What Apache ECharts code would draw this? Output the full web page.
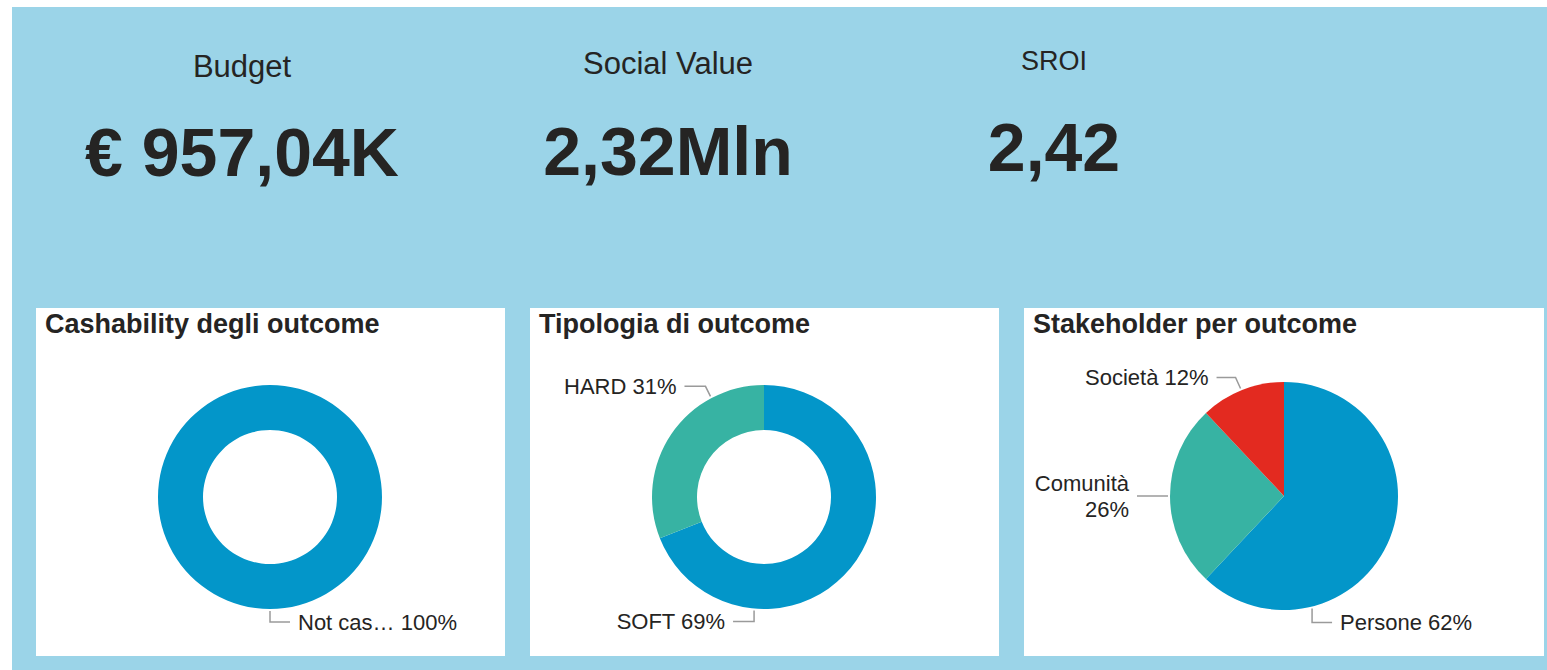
<!DOCTYPE html>
<html>
<head>
<meta charset="utf-8">
<script src="https://cdn.jsdelivr.net/npm/echarts@6/dist/echarts.min.js"></script>
<style>
  html, body { margin: 0; padding: 0; background: #fff; }
  #chart { width: 1547px; height: 670px; }
</style>
</head>
<body>
<div id="chart"></div>
<script>
// KPI cards
const kpiLabels = ['Budget', 'Social Value', 'SROI'];
const kpiValues = ['€ 957,04K', '2,32Mln', '2,42'];

// pie panels
const panelTitles = ['Cashability degli outcome', 'Tipologia di outcome', 'Stakeholder per outcome'];

const cashCategories = ['Not cashable'];
const cashValues = [100];

const typeCategories = ['SOFT', 'HARD'];
const typeValues = [69, 31];

const stakeCategories = ['Persone', 'Comunità', 'Società'];
const stakeValues = [62, 26, 12];

const FONT = '"Liberation Sans", Arial, sans-serif';
const TEXT = '#252423';
const BLUE = '#0396c9', TEAL = '#37b3a3', RED = '#e32a20';
const LABEL_SIZE = 22;

// layout
const kpiX = [242, 668, 1054];
const kpiLabelY = [66, 63.5, 60.5];
const kpiLabelSize = [31, 31, 27];
const kpiValueY = [152, 151, 147];

const panels = [
  { x: 36, y: 308, w: 469, h: 348 },
  { x: 530, y: 308, w: 469, h: 348 },
  { x: 1024, y: 308, w: 520, h: 348 }
];

// where each label line leaves the pie (degrees clockwise from 12 o'clock)
const cashGuides = [{ angle: 180, dir: 1, drop: 11, run: 20 }];
const typeGuides = [
  { angle: 185, dir: -1, drop: 11, run: 21 },
  { angle: 332, dir: -1, drop: -10, run: 21 }
];
const stakeGuides = [
  { angle: 166, dir: 1, drop: 14, run: 20 },
  { angle: 270, dir: -1, drop: 0, run: 31 },
  { angle: 338, dir: -1, drop: -11, run: 19 }
];

const measureCtx = document.createElement('canvas').getContext('2d');
measureCtx.font = LABEL_SIZE + 'px ' + FONT;

function shortName(name) {
  return name.length > 9 ? name.slice(0, 7) + '…' : name;
}

function guideGeometry(center, radius, g, panel) {
  const a = g.angle * Math.PI / 180;
  const r = radius + 2;
  const x0 = center[0] + r * Math.sin(a);
  const y0 = center[1] - r * Math.cos(a);
  const x1 = x0 + (g.drop < 0 ? g.dir * 5 : 0);
  const y1 = y0 + g.drop;
  const x2 = x1 + g.dir * g.run;
  const tx = x2 + g.dir * 8;
  const room = g.dir > 0 ? panel.x + panel.w - 10 - tx : tx - panel.x - 10;
  return { x0, y0, x1, y1, x2, tx, room };
}

function guideLayout(center, radius, guides, panel) {
  return function (params) {
    const g = guides[params.dataIndex];
    const p = guideGeometry(center, radius, g, panel);
    return {
      x: p.tx,
      y: p.y1,
      align: g.dir > 0 ? 'left' : 'right',
      verticalAlign: 'middle',
      labelLinePoints: [[p.x0, p.y0], [p.x1, p.y1], [p.x2, p.y1]]
    };
  };
}

function pieSeries(cats, vals, colors, center, radius, guides, panel) {
  const outer = Array.isArray(radius) ? radius[1] : radius;
  return {
    type: 'pie',
    center: center,
    radius: radius,
    startAngle: 90,
    clockwise: true,
    percentPrecision: 0,
    silent: true,
    animation: false,
    data: cats.map((c, i) => ({ name: c, value: vals[i], itemStyle: { color: colors[i] } })),
    label: {
      show: true,
      position: 'outside',
      color: TEXT,
      fontFamily: FONT,
      fontSize: LABEL_SIZE,
      lineHeight: 26,
      width: 300,
      formatter: (p) => {
        const name = shortName(p.name);
        const pct = p.percent + '%';
        const room = guideGeometry(center, outer, guides[p.dataIndex], panel).room;
        const one = name + ' ' + pct;
        return measureCtx.measureText(one).width > room ? name + '\n' + pct : one;
      }
    },
    labelLine: {
      show: true,
      lineStyle: { color: '#9a9a9a', width: 1.5 }
    },
    labelLayout: guideLayout(center, outer, guides, panel)
  };
}

const chart = echarts.init(document.getElementById('chart'), null, { renderer: 'svg' });

const graphics = [
  { type: 'rect', shape: { x: 12, y: 7, width: 1535, height: 663 }, style: { fill: '#9bd4e8' }, silent: true }
];
panels.forEach((p, i) => {
  graphics.push({ type: 'rect', shape: { x: p.x, y: p.y, width: p.w, height: p.h }, style: { fill: '#fff' }, silent: true });
  graphics.push({
    type: 'text', x: p.x + 9, y: 324, silent: true,
    style: { text: panelTitles[i], fill: TEXT, fontFamily: FONT, fontSize: 27, fontWeight: 'bold', align: 'left', verticalAlign: 'middle' }
  });
});
kpiLabels.forEach((lab, i) => {
  graphics.push({
    type: 'text', x: kpiX[i], y: kpiLabelY[i], silent: true,
    style: { text: lab, fill: TEXT, fontFamily: FONT, fontSize: kpiLabelSize[i], align: 'center', verticalAlign: 'middle' }
  });
  graphics.push({
    type: 'text', x: kpiX[i], y: kpiValueY[i], silent: true,
    style: { text: kpiValues[i], fill: TEXT, fontFamily: FONT, fontSize: 68, fontWeight: 'bold', align: 'center', verticalAlign: 'middle' }
  });
});

chart.setOption({
  animation: false,
  graphic: graphics,
  series: [
    pieSeries(cashCategories, cashValues, [BLUE], [270, 497], [67, 112], cashGuides, panels[0]),
    pieSeries(typeCategories, typeValues, [BLUE, TEAL], [764, 497], [67, 112], typeGuides, panels[1]),
    pieSeries(stakeCategories, stakeValues, [BLUE, TEAL, RED], [1284, 496], 114, stakeGuides, panels[2])
  ]
});

window.addEventListener('resize', () => chart.resize());
</script>
</body>
</html>
